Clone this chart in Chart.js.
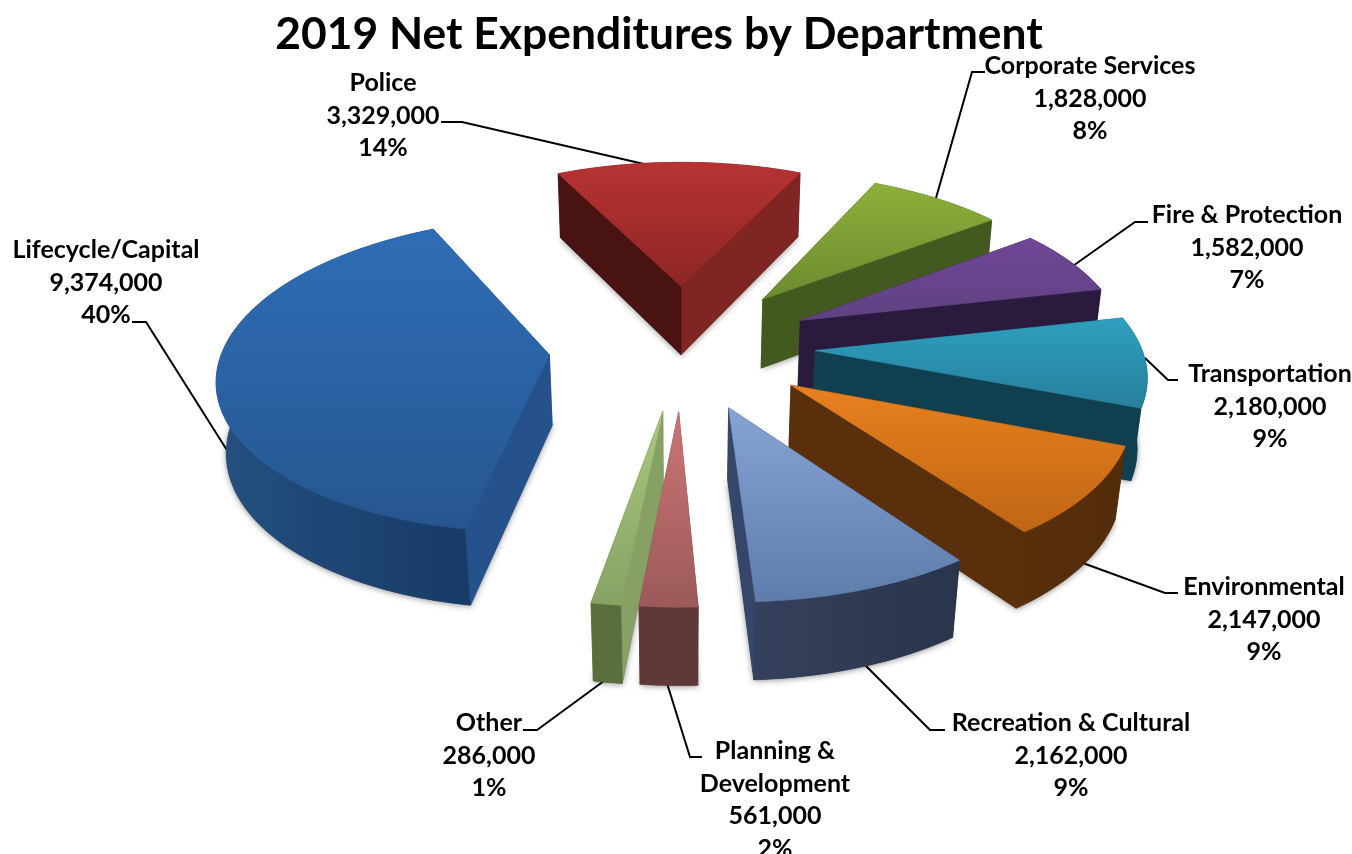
<!DOCTYPE html>
<html>
<head>
<meta charset="utf-8">
<title>2019 Net Expenditures by Department</title>
<script src="https://cdn.jsdelivr.net/npm/chart.js@4"></script>
<style>
  html, body { margin: 0; padding: 0; background: #fff; }
  canvas { display: block; }
</style>
</head>
<body>
<canvas id="expenditureChart" width="1352" height="854"></canvas>
<script>
const categories = ["Police", "Corporate Services", "Fire & Protection", "Transportation", "Environmental", "Recreation & Cultural", "Planning & Development", "Other", "Lifecycle/Capital"];
const netExpenditures = [3329000, 1828000, 1582000, 2180000, 2147000, 2162000, 561000, 286000, 9374000];

// face colours, same order as categories
const topLight = ["#b73332", "#8db03a", "#704696", "#2e9fbf", "#e8801f", "#87a3d4", "#cc7474", "#aac87c", "#2f6db6"];
const topDark = ["#8e2624", "#6c8b30", "#5f4283", "#277f9c", "#c06614", "#5d7dab", "#9c5a5a", "#86a364", "#265690"];
const wallStart = ["#481311", "#44591f", "#2a1a3e", "#10404f", "#5a300c", "#2c384f", "#5f3838", "#87a064", "#25528a"];
const wallEnd = ["#7f2523", "#44591f", "#2a1a3e", "#10404f", "#5a300c", "#35466a", "#5f3838", "#5b6e3e", "#25528a"];
const outerLeft = ["#481311", "#44591f", "#2a1a3e", "#10404f", "#5a300c", "#35415c", "#5f3838", "#5b6e3e", "#24507f"];
const outerRight = ["#481311", "#44591f", "#2a1a3e", "#10404f", "#522b0a", "#29354c", "#5f3838", "#5b6e3e", "#183a66"];

// label text placement: centre x and y of the first line
const labelX = [383, 1090, 1247, 1270, 1264, 1071, 775, 489, 106];
const labelY = [83, 66, 215, 374, 587, 723, 751, 723, 250];
const labelLines = [["Police"], ["Corporate Services"], ["Fire & Protection"], ["Transportation"], ["Environmental"], ["Recreation & Cultural"], ["Planning &", "Development"], ["Other"], ["Lifecycle/Capital"]];
const leaders = [
  [[441, 122], [462, 122], [670, 170]],
  [[985, 72], [972, 72], [934, 205]],
  [[1148, 222], [1135, 222], [1070, 268]],
  [[1178, 380], [1168, 380], [1145, 358]],
  [[1178, 593], [1165, 593], [1080, 562]],
  [[945, 730], [930, 730], [860, 660]],
  [[702, 757], [690, 757], [666, 680]],
  [[523, 730], [537, 730], [608, 678]],
  [[132, 322], [146, 322], [230, 455]]
];

// camera for the tilted pie
const camera = { cx: 682, cy: 346, zoom: 1, tilt: 0.47, persp: 0.00038, depth: 72, shrink: 0.0003 };

function project(x, y, z) {
  const s = camera.zoom / (1 - y * camera.persp * camera.zoom + z * camera.shrink);
  return [camera.cx + x * s, camera.cy + (y * camera.tilt + z / camera.zoom) * s];
}

function tracePath(ctx, pts) {
  ctx.beginPath();
  pts.forEach((p, i) => (i ? ctx.lineTo(p[0], p[1]) : ctx.moveTo(p[0], p[1])));
  ctx.closePath();
}

function fillFace(ctx, pts, fill) {
  tracePath(ctx, pts);
  ctx.fillStyle = fill;
  ctx.strokeStyle = fill;
  ctx.lineWidth = 0.6;
  ctx.fill();
  ctx.stroke();
}

function sliceFaces(arc) {
  const { startAngle, endAngle, outerRadius } = arc.getProps(["startAngle", "endAngle", "outerRadius"]);
  const mid = (startAngle + endAngle) / 2;
  const ox = Math.cos(mid) * arc.options.offset;
  const oy = Math.sin(mid) * arc.options.offset;
  const steps = Math.max(6, Math.ceil((endAngle - startAngle) * 40));
  const rim = [];
  for (let i = 0; i <= steps; i++) {
    const a = startAngle + (endAngle - startAngle) * i / steps;
    rim.push([ox + Math.cos(a) * outerRadius, oy + Math.sin(a) * outerRadius]);
  }
  return { ox, oy, rim, mid };
}

const pie3d = {
  id: "pie3d",
  beforeDatasetDraw(chart) {
    const ctx = chart.ctx;
    const arcs = chart.getDatasetMeta(0).data;
    const order = arcs.map((arc, i) => i).sort((a, b) => sliceFaces(arcs[a]).oy - sliceFaces(arcs[b]).oy);

    order.forEach((i) => {
      const { ox, oy, rim } = sliceFaces(arcs[i]);
      const apexTop = project(ox, oy, 0);
      const apexBottom = project(ox, oy, camera.depth);
      const rimTop = rim.map((p) => project(p[0], p[1], 0));
      const rimBottom = rim.map((p) => project(p[0], p[1], camera.depth));
      const last = rim.length - 1;

      // soft shadow round the foot of the slice
      ctx.save();
      ctx.shadowColor = "rgba(0,0,0,0.45)";
      ctx.shadowBlur = 6;
      ctx.shadowOffsetY = 1;
      tracePath(ctx, [apexBottom, ...rimBottom]);
      ctx.fillStyle = outerRight[i];
      ctx.fill();
      ctx.restore();

      const xs = rimBottom.concat(rimTop).map((p) => p[0]);
      const outerFill = ctx.createLinearGradient(Math.min(...xs), 0, Math.max(...xs), 0);
      outerFill.addColorStop(0, outerLeft[i]);
      outerFill.addColorStop(1, outerRight[i]);

      // walls, far ones first
      const walls = [
        { y: rim[0][1] + oy, pts: [apexTop, rimTop[0], rimBottom[0], apexBottom], fill: wallStart[i] },
        { y: rim[last][1] + oy, pts: [apexTop, rimTop[last], rimBottom[last], apexBottom], fill: wallEnd[i] },
        { y: rim[last >> 1][1] * 2, pts: rimTop.concat(rimBottom.slice().reverse()), fill: outerFill }
      ];
      walls.sort((a, b) => a.y - b.y).forEach((w) => fillFace(ctx, w.pts, w.fill));

      const top = [apexTop, ...rimTop];
      const ys = top.map((p) => p[1]);
      const topFill = ctx.createLinearGradient(0, Math.min(...ys), 0, Math.max(...ys));
      topFill.addColorStop(0, topLight[i]);
      topFill.addColorStop(1, topDark[i]);
      fillFace(ctx, top, topFill);
    });
    return false;
  }
};

const pieLabels = {
  id: "pieLabels",
  beforeDatasetsDraw(chart) {
    const ctx = chart.ctx;
    ctx.save();
    ctx.strokeStyle = "#000";
    ctx.lineWidth = 2;
    leaders.forEach((line) => {
      ctx.beginPath();
      line.forEach((p, i) => (i ? ctx.lineTo(p[0], p[1]) : ctx.moveTo(p[0], p[1])));
      ctx.stroke();
    });
    ctx.restore();
  },
  afterDatasetsDraw(chart) {
    const ctx = chart.ctx;
    const total = netExpenditures.reduce((a, b) => a + b, 0);
    ctx.save();
    ctx.fillStyle = "#000";
    ctx.font = "bold 25px Lato";
    ctx.textAlign = "center";
    ctx.textBaseline = "middle";
    categories.forEach((name, i) => {
      const lines = labelLines[i].concat([
        netExpenditures[i].toLocaleString("en-US"),
        Math.round(netExpenditures[i] / total * 100) + "%"
      ]);
      lines.forEach((text, j) => ctx.fillText(text, labelX[i], labelY[i] + j * 32.5));
    });
    ctx.restore();
  }
};

new Chart(document.getElementById("expenditureChart"), {
  type: "pie",
  data: {
    labels: categories,
    datasets: [
      {
        data: netExpenditures,
        backgroundColor: topLight,
        borderWidth: 0,
        offset: 133,
      },
    ],
  },
  options: {
    responsive: false,
    animation: false,
    rotation: -26,
    layout: { padding: { right: 34 } },
    plugins: {
      title: {
        display: true,
        text: "2019 Net Expenditures by Department",
        color: "#000",
        font: { family: "Lato", size: 44.4, weight: "bold" },
        padding: { top: 8, bottom: 8 },
      },
      legend: { display: false },
      tooltip: { enabled: false },
    },
  },
  plugins: [pie3d, pieLabels],
});
</script>
</body>
</html>
